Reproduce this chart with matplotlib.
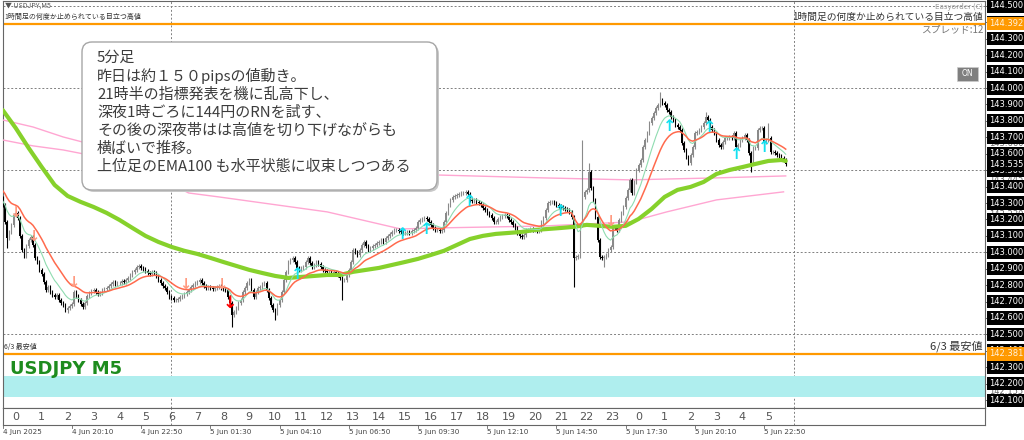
import matplotlib
matplotlib.use('Agg')
import matplotlib.pyplot as plt
from matplotlib.patches import FancyBboxPatch, Rectangle
from matplotlib.transforms import IdentityTransform, blended_transform_factory
import numpy as np

plt.rcParams['font.family'] = ['Noto Sans CJK JP', 'DejaVu Sans']

# ---------------- data ----------------
# USDJPY M5 closes, 4 Jun 17:30 -> 5 Jun 23:40 (server time)
closes = [
    143.288, 143.185, 143.088, 143.124, 143.167, 143.228, 143.240, 143.209, 143.100, 143.015, 142.978, 143.039,
    143.075, 143.094, 143.045, 142.966, 142.941, 142.893, 142.868, 142.820, 142.771, 142.789, 142.759, 142.741,
    142.728, 142.741, 142.710, 142.692, 142.680, 142.649, 142.662, 142.674, 142.686, 142.759, 142.735, 142.710,
    142.686, 142.668, 142.692, 142.735, 142.753, 142.765, 142.771, 142.759, 142.747, 142.753, 142.771, 142.777,
    142.783, 142.795, 142.808, 142.820, 142.808, 142.814, 142.814, 142.826, 142.820, 142.832, 142.844, 142.862,
    142.881, 142.893, 142.911, 142.917, 142.905, 142.899, 142.887, 142.874, 142.868, 142.881, 142.874, 142.856,
    142.832, 142.814, 142.795, 142.783, 142.759, 142.728, 142.722, 142.710, 142.710, 142.716, 142.728, 142.735,
    142.747, 142.759, 142.771, 142.789, 142.801, 142.814, 142.820, 142.832, 142.814, 142.795, 142.783, 142.789,
    142.783, 142.777, 142.783, 142.789, 142.795, 142.783, 142.777, 142.771, 142.728, 142.692, 142.619, 142.637,
    142.662, 142.692, 142.710, 142.759, 142.783, 142.814, 142.832, 142.771, 142.728, 142.759, 142.783, 142.789,
    142.808, 142.814, 142.771, 142.722, 142.680, 142.649, 142.631, 142.680, 142.710, 142.759, 142.832, 142.881,
    142.941, 142.954, 142.966, 142.941, 142.905, 142.893, 142.905, 142.911, 142.941, 142.966, 142.935, 142.911,
    142.923, 142.941, 142.929, 142.911, 142.893, 142.887, 142.881, 142.881, 142.874, 142.881, 142.874, 142.862,
    142.844, 142.832, 142.832, 142.862, 142.893, 142.941, 143.015, 143.002, 142.984, 143.015, 143.045, 143.063,
    143.039, 143.015, 143.027, 143.039, 143.045, 143.057, 143.063, 143.075, 143.063, 143.088, 143.100, 143.112,
    143.124, 143.136, 143.136, 143.130, 143.124, 143.118, 143.118, 143.124, 143.118, 143.130, 143.136, 143.148,
    143.185, 143.197, 143.203, 143.209, 143.203, 143.185, 143.167, 143.148, 143.136, 143.136, 143.130, 143.136,
    143.185, 143.240, 143.288, 143.319, 143.337, 143.343, 143.349, 143.355, 143.361, 143.361, 143.368, 143.355,
    143.319, 143.313, 143.319, 143.307, 143.301, 143.288, 143.270, 143.258, 143.240, 143.228, 143.209, 143.185,
    143.185, 143.203, 143.215, 143.221, 143.228, 143.221, 143.197, 143.185, 143.167, 143.148, 143.118, 143.100,
    143.094, 143.106, 143.136, 143.136, 143.142, 143.136, 143.136, 143.130, 143.136, 143.185, 143.209, 143.258,
    143.301, 143.307, 143.307, 143.301, 143.288, 143.282, 143.276, 143.270, 143.264, 143.258, 143.246, 143.215,
    142.966, 142.972, 142.978, 143.167, 143.337, 143.368, 143.380, 143.489, 143.392, 143.319, 143.215, 143.075,
    142.972, 142.966, 142.972, 142.984, 143.015, 143.033, 143.155, 143.148, 143.136, 143.197, 143.240, 143.276,
    143.331, 143.380, 143.441, 143.361, 143.428, 143.501, 143.532, 143.562, 143.641, 143.684, 143.727, 143.787,
    143.818, 143.848, 143.879, 143.897, 143.927, 143.909, 143.897, 143.867, 143.854, 143.824, 143.806, 143.775,
    143.763, 143.745, 143.666, 143.623, 143.581, 143.544, 143.593, 143.641, 143.727, 143.733, 143.745, 143.763,
    143.787, 143.824, 143.806, 143.763, 143.745, 143.727, 143.684, 143.654, 143.641, 143.672, 143.696, 143.696,
    143.702, 143.696, 143.727, 143.641, 143.654, 143.684, 143.696, 143.714, 143.684, 143.605, 143.544, 143.635,
    143.635, 143.745, 143.757, 143.757, 143.672, 143.684, 143.696, 143.611, 143.611, 143.605, 143.593, 143.587,
    143.574, 143.562, 143.535,
]
first_open = 143.330
wick = 0.012
spike_bars = [2, 30, 106, 126, 157, 264, 268, 271, 278, 304, 325, 346, 354]
spike_high = [None, None, None, None, None, None, 143.684, 143.544, None, 143.976, 143.854, None, 143.787]
spike_low = [143.027, 142.630, 142.545, 142.589, 142.710, 142.789, None, None, 142.911, None, None, 143.489, None]

# upper-timeframe EMA100 (green), sampled bars
green_bars = [0, 6, 12, 18, 24, 30, 36, 42, 48, 54, 60, 66, 72, 78, 84, 90, 96, 102, 108, 114, 120, 126,
              132, 138, 144, 150, 156, 162, 168, 174, 180, 186, 192, 198, 204, 210, 216, 222, 228, 234,
              240, 246, 252, 258, 264, 270, 276, 282, 288, 294, 300, 306, 312, 318, 324, 330, 336, 342,
              348, 354, 360, 362]
green_vals = [143.866, 143.757, 143.635, 143.520, 143.410, 143.343, 143.307, 143.276, 143.240, 143.197,
              143.148, 143.100, 143.063, 143.033, 143.009, 142.990, 142.966, 142.941, 142.917, 142.893,
              142.874, 142.856, 142.844, 142.850, 142.856, 142.862, 142.862, 142.881, 142.893, 142.905,
              142.923, 142.941, 142.960, 142.984, 143.009, 143.045, 143.081, 143.100, 143.112, 143.118,
              143.124, 143.136, 143.142, 143.148, 143.155, 143.167, 143.161, 143.155, 143.161, 143.203,
              143.264, 143.337, 143.380, 143.398, 143.428, 143.477, 143.501, 143.519, 143.538, 143.556,
              143.562, 143.556]
# higher-timeframe MAs (pink)
pink1_bars = [0, 14, 28, 42, 60, 100, 150, 200, 250, 290, 330, 362]
pink1_vals = [143.806, 143.763, 143.702, 143.654, 143.611, 143.550, 143.501, 143.471, 143.453, 143.441, 143.453, 143.465]
pink2_bars = [0, 14, 28, 42, 60, 86, 100, 150, 184, 200, 250, 290, 307, 330, 361]
pink2_vals = [143.684, 143.648, 143.623, 143.587, 143.532, 143.361, 143.337, 143.246, 143.142, 143.148, 143.160, 143.185, 143.246, 143.319, 143.368]
red_start, red_span = 143.385, 20
mint_start, mint_span = 143.319, 10

# signal arrows
up_bars = [136.5, 185, 196, 216, 258, 308.5, 327, 339.5, 352.4]
up_prices = [142.862, 143.106, 143.136, 143.307, 143.246, 143.763, 143.757, 143.593, 143.641]
dn_bars = [5.7, 14, 32.5, 84.3, 101, 280.8]
dn_prices = [143.240, 143.094, 142.814, 142.801, 142.801, 143.185]
red_dn_bar, red_dn_price = 105, 142.692

high_level, high_label = 144.392, '1時間足の何度か止められている目立つ高値'
low_level, low_label = 142.381, '6/3 最安値'
zone_lo, zone_hi = 142.120, 142.247

price_ticks = [144.5, 144.4, 144.3, 144.2, 144.1, 144.0, 143.9, 143.8, 143.7, 143.6, 143.5, 143.4, 143.3,
               143.2, 143.1, 143.0, 142.9, 142.8, 142.7, 142.6, 142.5, 142.4, 142.3, 142.2, 142.1]
gray_labels = [143.880, 143.660, 143.445, 143.230, 142.155]
hour_labels = [str(h % 24) for h in range(30)]
date_labels = ['4 Jun 2025', '4 Jun 20:10', '4 Jun 22:50', '5 Jun 01:30', '5 Jun 04:10', '5 Jun 06:50',
               '5 Jun 09:30', '5 Jun 12:10', '5 Jun 14:50', '5 Jun 17:30', '5 Jun 20:10', '5 Jun 22:50']
day_separators = [78, 366]

note_lines = ['5分足', '昨日は約１５０pipsの値動き。', '21時半の指標発表を機に乱高下し、',
              '深夜1時ごろに144円のRNを試す、', 'その後の深夜帯はは高値を切り下げながらも',
              '横ばいで推移。', '上位足のEMA100 も水平状態に収束しつつある']

# ---------------- figure ----------------
W, H = 1024, 440
fig = plt.figure(figsize=(W / 100, H / 100), dpi=100)
fig.patch.set_facecolor('white')

L, R, T, B = 3, 985, 1, 408
ax = fig.add_axes([L / W, (H - B) / H, (R - L) / W, (B - T) / H])
px_per_bar = 2.163
x0 = 2.7
xmin = (L - x0) / px_per_bar
xmax = (R - x0) / px_per_bar
ax.set_xlim(xmin, xmax)
ax.set_ylim(142.052, 144.530)
ax.set_facecolor('white')
for s in ax.spines.values():
    s.set_color('#666666')
    s.set_linewidth(0.8)
ax.set_xticks([])
ax.yaxis.tick_right()
ax.set_yticks(price_ticks)
ax.tick_params(axis='y', length=3, width=0.6, color='#555555', labelright=False, pad=0)

# grid / separators
for g in [144.5, 144.0, 143.5, 143.0, 142.5]:
    ax.axhline(g, color='#808080', lw=0.7, ls=(0, (2, 2)), zorder=1)
for d in day_separators:
    ax.axvline(d, color='#808080', lw=0.7, ls=(0, (2, 2)), zorder=1)

# zone and levels
ax.axhspan(zone_lo, zone_hi, color='#afeeee', lw=0, zorder=1)
ax.axhline(high_level, color='#ff9900', lw=1.6, zorder=2)
ax.axhline(low_level, color='#ff9900', lw=1.6, zorder=2)

# candles
c = np.array(closes)
n = len(c)
idx = np.arange(n)
o = np.concatenate([[first_open], c[:-1]])
hi = np.maximum(o, c) + wick
lo = np.minimum(o, c) - wick
for b, h_, l_ in zip(spike_bars, spike_high, spike_low):
    if h_ is not None:
        hi[b] = h_
    if l_ is not None:
        lo[b] = l_
bull = c >= o
ax.vlines(idx[bull], lo[bull], hi[bull], color='#8a8a8a', lw=0.8, zorder=4)
ax.vlines(idx[~bull], lo[~bull], hi[~bull], color='#000000', lw=0.8, zorder=4)
ax.bar(idx[bull], (c - o)[bull], bottom=o[bull], width=0.62, color='#8a8a8a', lw=0, zorder=4)
ax.bar(idx[~bull], (c - o)[~bull], bottom=o[~bull], width=0.62, color='#000000', lw=0, zorder=4)

# moving averages
def ema(vals, span, start):
    a = 2.0 / (span + 1)
    out, e = [], start
    for v in vals:
        e = a * v + (1 - a) * e
        out.append(e)
    return out

ax.plot(pink1_bars, pink1_vals, color='#ffa6d2', lw=1.0, zorder=3)
ax.plot(pink2_bars, pink2_vals, color='#ffa6d2', lw=1.0, zorder=3)
ax.plot(green_bars, green_vals, color='#86d12b', lw=3.0, zorder=5, solid_capstyle='round')
ax.plot(idx, ema(c, mint_span, mint_start), color='#8fdcb0', lw=0.8, zorder=5)
ax.plot(idx, ema(c, red_span, red_start), color='#ff6a4d', lw=1.1, zorder=5)

# arrows
for b, p in zip(up_bars, up_prices):
    ax.text(b, p, '↑', color='#14e0f0', fontsize=11.5, fontweight='bold', ha='center', va='center',
            family='DejaVu Sans', zorder=6)
for b, p in zip(dn_bars, dn_prices):
    ax.text(b, p, '↓', color='#ff9a80', fontsize=10.5, fontweight='bold', ha='center', va='center',
            family='DejaVu Sans', zorder=6)
ax.text(red_dn_bar, red_dn_price, '↓', color='#ff0000', fontsize=12.5, fontweight='bold', ha='center',
        va='center', family='DejaVu Sans', zorder=6)

# right price labels
tr = blended_transform_factory(ax.transAxes, ax.transData)
lx = 1.0 + 4 / (R - L)
for p in gray_labels:
    ax.text(lx, p, f'{p:.3f}', transform=tr, fontsize=6, color='#666666', va='center', ha='left',
            family='DejaVu Sans', clip_on=False, zorder=7)
for p in price_ticks:
    ax.text(lx, p, f'{p:.3f}', transform=tr, fontsize=6, color='white', va='center', ha='left',
            family='DejaVu Sans', clip_on=False, zorder=8,
            bbox=dict(boxstyle='square,pad=0.25', fc='black', ec='none'))
for p in [high_level, low_level]:
    ax.text(lx, p, f'{p:.3f}', transform=tr, fontsize=6, color='#fff2dd', va='center', ha='left',
            family='DejaVu Sans', clip_on=False, zorder=9,
            bbox=dict(boxstyle='square,pad=0.25', fc='#ff9900', ec='none'))
ax.text(lx, 143.535, '143.535', transform=tr, fontsize=6, color='white', va='center', ha='left',
        family='DejaVu Sans', clip_on=False, zorder=9,
        bbox=dict(boxstyle='square,pad=0.25', fc='black', ec='none'))

# hour strip
sx = fig.add_axes([L / W, (H - 425) / H, (R - L) / W, 17 / H])
sx.set_xlim(xmin, xmax)
sx.set_ylim(0, 1)
sx.set_xticks([])
sx.set_yticks([])
for s in sx.spines.values():
    s.set_color('#666666')
    s.set_linewidth(0.8)
for k, lab in enumerate(hour_labels):
    sx.text(6 + 12 * k, 0.5, lab, ha='center', va='center', fontsize=8, color='#555555',
            family='DejaVu Sans')
for d in day_separators:
    sx.axvline(d, color='#808080', lw=0.7, ls=(0, (2, 2)))
for k, lab in enumerate(date_labels):
    b = 32 * k
    sx.plot([b, b], [0, -0.2], color='#666666', lw=0.6, clip_on=False)
    sx.text(b, -0.42, lab, ha='left', va='center', fontsize=5.2, color='#444444', family='DejaVu Sans',
            clip_on=False)

# ---------------- texts / overlays in pixel space ----------------
def fx(x):
    return x / W

def fy(y):
    return 1 - y / H

fig.text(fx(5), fy(6), '▼ USDJPY,M5', fontsize=5, color='#555555', va='center', ha='left')
fig.text(fx(4), fy(17), high_label, fontsize=5, color='#333333', va='center', ha='left')
fig.text(fx(983), fy(7), 'Easyorder (C)', fontsize=5.5, color='#999999', va='center', ha='right')
fig.text(fx(983), fy(17), high_label, fontsize=7, color='#333333', va='center', ha='right')
fig.text(fx(983), fy(29), 'スプレッド:12', fontsize=7, color='#777777', va='center', ha='right')
fig.text(fx(4), fy(347), low_label, fontsize=5, color='#333333', va='center', ha='left')
fig.text(fx(983), fy(346), low_label, fontsize=8, color='#333333', va='center', ha='right')
fig.text(fx(10), fy(369), 'USDJPY M5', fontsize=13, fontweight='bold', color='#1e8c1e', va='center',
         ha='left', family='DejaVu Sans')

# ON button
fig.add_artist(Rectangle((957, H - 81), 21, 14, transform=IdentityTransform(), fc='#7f7f7f',
                         ec='#cccccc', lw=0.5, zorder=10))
fig.text(fx(967.5), fy(74), 'ON', fontsize=5.5, color='white', va='center', ha='center',
         family='DejaVu Sans', zorder=11)

# annotation box
bx, by, bw, bh = 82, 42, 355, 148
fig.add_artist(FancyBboxPatch((bx + 2, H - by - bh - 2), bw, bh, boxstyle='round,pad=0,rounding_size=10',
                              transform=IdentityTransform(), fc='#c8c8c8', ec='none', zorder=10))
fig.add_artist(FancyBboxPatch((bx, H - by - bh), bw, bh, boxstyle='round,pad=0,rounding_size=10',
                              transform=IdentityTransform(), fc='white', ec='#a6a6a6', lw=1.0, zorder=11))
for k, line in enumerate(note_lines):
    fig.text(fx(97), fy(58 + 18.15 * k), line, fontsize=10.8, color='#3c3c3c', va='center', ha='left',
             zorder=12)

fig.savefig('out.png', dpi=100, facecolor='white')
